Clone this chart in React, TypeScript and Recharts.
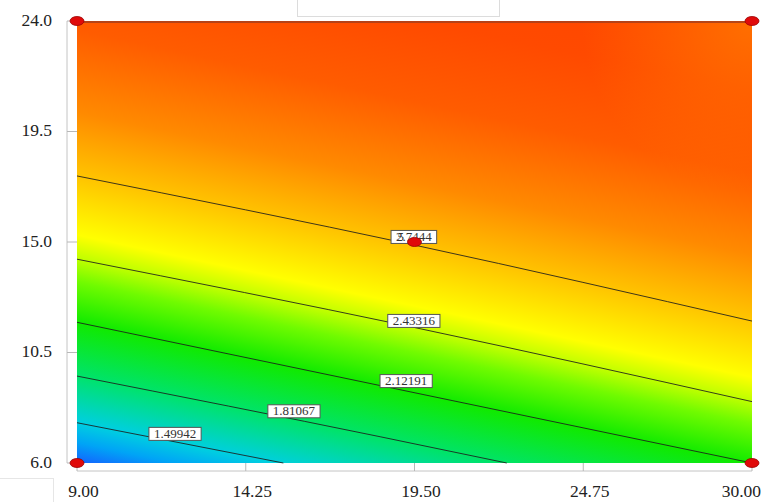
import { ComposedChart, Line, ReferenceArea, Scatter, XAxis, YAxis } from "recharts";

// axis ticks
const xTicks = [9, 14.25, 19.5, 24.75, 30];
const yTicks = [6, 10.5, 15, 19.5, 24];
const xTickLabels = ["9.00", "14.25", "19.50", "24.75", "30.00"];
const yTickLabels = ["6.0", "10.5", "15.0", "19.5", "24.0"];

// contour lines
const contour149942 = [
  { x: 9, y: 7.64 },
  { x: 15.42, y: 6 },
];
const contour181067 = [
  { x: 9, y: 9.54 },
  { x: 18.43, y: 7.07 },
  { x: 22.37, y: 6 },
];
const contour212191 = [
  { x: 9, y: 11.73 },
  { x: 18.81, y: 9.05 },
  { x: 30, y: 6 },
];
const contour243316 = [
  { x: 9, y: 14.3 },
  { x: 19.42, y: 11.54 },
  { x: 30, y: 8.5 },
];
const contour274441 = [
  { x: 9, y: 17.69 },
  { x: 19.48, y: 14.88 },
  { x: 30, y: 11.78 },
];

// contour labels (anchored on their line)
const contourLabels = [
  { x: 12.05, y: 6.86, text: "1.49942" },
  { x: 15.75, y: 7.78, text: "1.81067" },
  { x: 19.24, y: 9.01, text: "2.12191" },
  { x: 19.48, y: 11.46, text: "2.43316" },
  { x: 19.48, y: 14.88, text: "2.7444" },
];

// design points, with replicate count
const designPoints = [
  { x: 9, y: 6, n: 1 },
  { x: 30, y: 6, n: 1 },
  { x: 9, y: 24, n: 1 },
  { x: 30, y: 24, n: 1 },
  { x: 19.5, y: 15, n: 5 },
];

const serif = "'Liberation Serif', 'Times New Roman', serif";

function LabelBox(props: any) {
  const { cx, cy, payload } = props;
  const w = payload.text.length * 6.6 + 6;
  return (
    <g>
      <rect x={cx - w / 2} y={cy - 14.5} width={w} height={13} fill="#fff" stroke="#555" strokeWidth={1} />
      <text x={cx} y={cy - 4} textAnchor="middle" fontSize={13} fontFamily={serif} fill="#333">
        {payload.text}
      </text>
    </g>
  );
}

function DesignDot(props: any) {
  const { cx, cy, payload } = props;
  return (
    <g>
      {payload.n > 1 && (
        <text x={cx - 17} y={cy - 1.5} fontSize={13} fontFamily={serif} fill="#333">
          {payload.n}
        </text>
      )}
      <ellipse cx={cx} cy={cy} rx={7} ry={4.5} fill="#e00a0a" stroke="#9a0000" strokeWidth={0.8} />
    </g>
  );
}

function XTick(props: any) {
  const { x, y, payload } = props;
  const i = xTicks.indexOf(payload.value);
  const last = i === xTicks.length - 1;
  return (
    <text
      x={last ? x + 9 : x + 6.5}
      y={y + 24}
      textAnchor={last ? "end" : "middle"}
      fontSize={17.5}
      fontFamily={serif}
      fill="#222"
    >
      {xTickLabels[i]}
    </text>
  );
}

function YTick(props: any) {
  const { x, y, payload } = props;
  const i = yTicks.indexOf(payload.value);
  return (
    <text x={x} y={y + 4.5} textAnchor="end" fontSize={17.5} fontFamily={serif} fill="#222">
      {yTickLabels[i]}
    </text>
  );
}

const contours = [contour149942, contour181067, contour212191, contour243316, contour274441];

export default function App() {
  return (
    <div style={{ position: "absolute", left: 0, top: 0, width: 762, height: 502, background: "#fff" }}>
      <div
        style={{
          position: "absolute",
          left: 297,
          top: -1,
          width: 201,
          height: 16,
          border: "1px solid #dcdcdc",
          background: "#fff",
        }}
      />
      <div style={{ position: "absolute", left: 0, top: 478, width: 53, height: 1, background: "#e6e6e6" }} />
      <div style={{ position: "absolute", left: 53, top: 478, width: 1, height: 24, background: "#e6e6e6" }} />
      <ComposedChart width={762} height={502} margin={{ top: 21, right: 10, bottom: 0, left: 17 }}>
        <defs>
          <linearGradient id="field" gradientUnits="userSpaceOnUse" x1={77} y1={463} x2={195} y2={-97}>
            <stop offset="0" stopColor="#1462ff" />
            <stop offset="0.035" stopColor="#00a4f6" />
            <stop offset="0.07" stopColor="#00cfe0" />
            <stop offset="0.15" stopColor="#00e36a" />
            <stop offset="0.24" stopColor="#10ea00" />
            <stop offset="0.31" stopColor="#70fb00" />
            <stop offset="0.35" stopColor="#c0ff00" />
            <stop offset="0.39" stopColor="#ffff00" />
            <stop offset="0.49" stopColor="#ffc400" />
            <stop offset="0.6" stopColor="#ff8a00" />
            <stop offset="0.74" stopColor="#ff5c00" />
            <stop offset="0.88" stopColor="#ff4a00" />
            <stop offset="1" stopColor="#ff4600" />
          </linearGradient>
          <radialGradient id="corner" gradientUnits="userSpaceOnUse" cx={752} cy={21} r={170}>
            <stop offset="0" stopColor="#ff8000" stopOpacity={0.7} />
            <stop offset="1" stopColor="#ff8000" stopOpacity={0} />
          </radialGradient>
        </defs>
        <XAxis
          type="number"
          dataKey="x"
          domain={[9, 30]}
          ticks={xTicks}
          height={39}
          tickSize={8}
          tickMargin={2}
          tick={<XTick />}
          axisLine={{ stroke: "#c4c4c4", transform: "translate(0,8)" }}
          tickLine={{ stroke: "#b8b8b8" }}
          interval={0}
        />
        <YAxis
          type="number"
          dataKey="y"
          domain={[6, 24]}
          ticks={yTicks}
          width={60}
          tickSize={10}
          tickMargin={15}
          tick={<YTick />}
          axisLine={{ stroke: "#c4c4c4", transform: "translate(-10,0)" }}
          tickLine={{ stroke: "#b8b8b8" }}
          interval={0}
        />
        <ReferenceArea x1={9} x2={30} y1={6} y2={24} fill="url(#field)" fillOpacity={1} stroke="none" />
        <ReferenceArea x1={9} x2={30} y1={6} y2={24} fill="url(#corner)" fillOpacity={1} stroke="none" />
        <ReferenceArea x1={9} x2={30} y1={23.92} y2={24} fill="#a8401c" fillOpacity={0.85} stroke="none" />
        {contours.map((c, i) => (
          <Line
            key={i}
            data={c}
            dataKey="y"
            type="monotone"
            stroke="#1c1c1c"
            strokeWidth={1}
            strokeOpacity={0.85}
            dot={false}
            activeDot={false}
            isAnimationActive={false}
          />
        ))}
        <Scatter data={contourLabels} shape={<LabelBox />} isAnimationActive={false} />
        <Scatter data={designPoints} shape={<DesignDot />} isAnimationActive={false} />
      </ComposedChart>
    </div>
  );
}
